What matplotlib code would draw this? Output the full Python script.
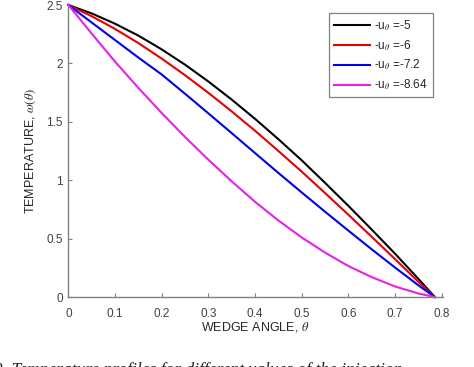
import numpy as np
import matplotlib
matplotlib.use('Agg')
import matplotlib.pyplot as plt

plt.rcParams['font.family'] = ['Liberation Sans', 'DejaVu Sans']
plt.rcParams['mathtext.fontset'] = 'stix'

# 楔角 theta（0 ~ pi/4）
theta = [0.0, 0.05, 0.1, 0.15, 0.2, 0.25, 0.3, 0.35, 0.4, 0.45,
         0.5, 0.55, 0.6, 0.65, 0.7, 0.75, 0.785]

# 不同注入参数下的温度分布
temp_5 = [2.5, 2.428, 2.34, 2.238, 2.12, 1.989, 1.845, 1.69, 1.525, 1.351,
          1.17, 0.977, 0.78, 0.577, 0.37, 0.155, 0.0]
temp_6 = [2.5, 2.404, 2.295, 2.174, 2.041, 1.899, 1.748, 1.589, 1.423, 1.25,
          1.073, 0.89, 0.704, 0.515, 0.324, 0.13, 0.0]
temp_72 = [2.5, 2.35, 2.2, 2.05, 1.905, 1.74, 1.572, 1.403, 1.232, 1.062,
           0.895, 0.73, 0.568, 0.408, 0.252, 0.10, 0.0]
temp_864 = [2.5, 2.255, 2.015, 1.79, 1.575, 1.37, 1.175, 0.99, 0.815, 0.655,
            0.51, 0.38, 0.265, 0.17, 0.09, 0.03, 0.0]

labels = [r'-u$_{\theta}$ =-5', r'-u$_{\theta}$ =-6',
          r'-u$_{\theta}$ =-7.2', r'-u$_{\theta}$ =-8.64']
colors = ['#000000', '#e60000', '#0000f0', '#e820e8']

x_ticks = [0, 0.1, 0.2, 0.3, 0.4, 0.5, 0.6, 0.7, 0.8]
x_ticklabels = ['0', '0.1', '0.2', '0.3', '0.4', '0.5', '0.6', '0.7', '0.8']
y_ticks = [0, 0.5, 1, 1.5, 2, 2.5]
y_ticklabels = ['0', '0.5', '1', '1.5', '2', '2.5']

fig = plt.figure(figsize=(4.74, 3.67), dpi=100)
ax = fig.add_axes([0.1443, 0.1907, 0.7897, 0.7956])

for ys, lab, c in zip([temp_5, temp_6, temp_72, temp_864], labels, colors):
    ax.plot(theta, ys, color=c, linewidth=1.5, label=lab, clip_on=False)

ax.set_xlim(0, 0.802)
ax.set_ylim(0, 2.5)
ax.set_xticks(x_ticks)
ax.set_xticklabels(x_ticklabels)
ax.set_yticks(y_ticks)
ax.set_yticklabels(y_ticklabels)

for s in ['top', 'right']:
    ax.spines[s].set_visible(False)
for s in ['left', 'bottom']:
    ax.spines[s].set_color('#808080')
    ax.spines[s].set_linewidth(1.0)

ax.tick_params(direction='in', length=3, width=0.8, color='#808080',
               labelcolor='#404040', labelsize=8.5)
ax.tick_params(axis='x', pad=8)
ax.tick_params(axis='y', pad=4)

ax.set_xlabel(r'WEDGE ANGLE, $\theta$', fontsize=9, color='#262626', labelpad=0)
ax.set_ylabel(r'TEMPERATURE, $\omega(\theta)$', fontsize=9, color='#262626', labelpad=6)

leg = ax.legend(loc='upper right', bbox_to_anchor=(0.974, 0.973), borderaxespad=0,
                fontsize=8.5, handlelength=3.0, handletextpad=0.35,
                labelspacing=0.45, fancybox=False, framealpha=1,
                edgecolor='#808080', borderpad=0.45)
leg.get_frame().set_linewidth(0.9)
for t in leg.get_texts():
    t.set_color('#262626')

# 截断的图注
fig.text(-0.012, 0.013, '2. Temperature profiles for different values of the injection',
         ha='left', va='top', fontsize=12.5, style='italic',
         family=['Liberation Serif', 'DejaVu Serif'], color='#202020')

fig.savefig('out.png', dpi=100)
